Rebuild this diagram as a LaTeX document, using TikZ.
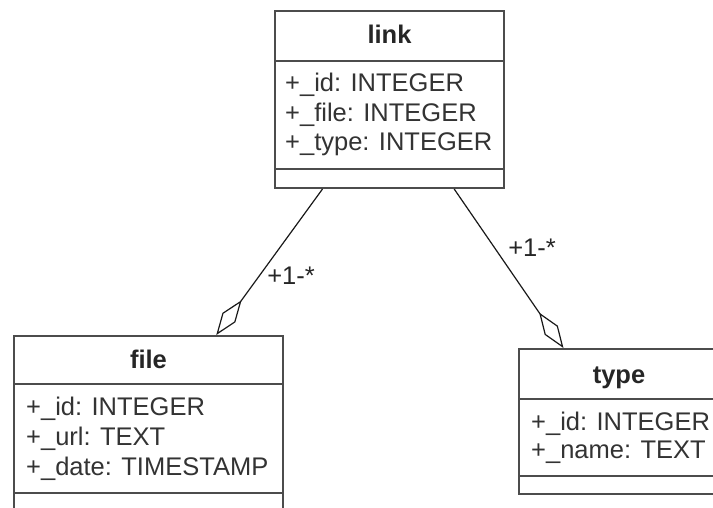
\documentclass[tikz,border=0pt]{standalone}
\usepackage{fontspec}
\setmainfont{Liberation Sans}
\usetikzlibrary{arrows.meta,calc}
\begin{document}
\begin{tikzpicture}[x=1pt,y=-1pt,
  box/.style={draw=black!70, line width=2pt, inner sep=0pt, fill=white, anchor=north west},
  divider/.style={draw=black!70, line width=2pt},
  title/.style={font=\fontsize{25.5}{30}\selectfont\bfseries, text=black!85, inner sep=0pt, anchor=base},
  attr/.style={font=\fontsize{25.5}{30}\selectfont, text=black!80, inner sep=0pt, anchor=base west},
  conn/.style={draw=black!90, line width=1.2pt, -{Diamond[open,length=43pt,width=16pt,line width=1.2pt]}},
  mult/.style={font=\fontsize{25.5}{30}\selectfont, text=black!85, inner sep=0pt}]
\useasboundingbox (0,0) rectangle (713,508);
\begin{scope}
\clip (0,0) rectangle (713,508);
% link
\node[box, minimum width=229pt, minimum height=177pt] (link) at (274,10) {};
\draw[divider] ($(link.north west)+(0,51)$) -- ($(link.north east)+(0,51)$);
\draw[divider] ($(link.north west)+(0,159)$) -- ($(link.north east)+(0,159)$);
\node[title] (linkt) at ($(link.north)+(0,34)$) {link};
\node[attr] (linka1) at ($(link.north west)+(11,82)$) {+\_id: INTEGER};
\node[attr] (linka2) at ($(link.north west)+(11,111.5)$) {+\_file: INTEGER};
\node[attr] (linka3) at ($(link.north west)+(11,141)$) {+\_type: INTEGER};
% file
\node[box, minimum width=269pt, minimum height=176pt] (file) at (13,335) {};
\draw[divider] ($(file.north west)+(0,49)$) -- ($(file.north east)+(0,49)$);
\draw[divider] ($(file.north west)+(0,158)$) -- ($(file.north east)+(0,158)$);
\node[title] (filet) at ($(file.north)+(0,33)$) {file};
\node[attr] (filea1) at ($(file.north west)+(13,80)$) {+\_id: INTEGER};
\node[attr] (filea2) at ($(file.north west)+(13,110)$) {+\_url: TEXT};
\node[attr] (filea3) at ($(file.north west)+(13,140)$) {+\_date: TIMESTAMP};
% type
\node[box, minimum width=200pt, minimum height=145pt] (type) at (518,348) {};
\draw[divider] ($(type.north west)+(0,51)$) -- ($(type.north east)+(0,51)$);
\draw[divider] ($(type.north west)+(0,128)$) -- ($(type.north east)+(0,128)$);
\node[title] (typet) at ($(type.north)+(0,35)$) {type};
\node[attr] (typea1) at ($(type.north west)+(13,82)$) {+\_id: INTEGER};
\node[attr] (typea2) at ($(type.north west)+(13,110.5)$) {+\_name: TEXT};
% connectors
\coordinate (ls) at ($(link.south west)!0.21!(link.south east)$);
\coordinate (rs) at ($(link.south west)!0.78!(link.south east)$);
\coordinate (fe) at ($(file.north west)!0.75!(file.north east)$);
\coordinate (te) at ($(type.north west)!0.225!(type.north east)$);
\draw[conn] (ls) -- (fe);
\draw[conn] (rs) -- (te);
\node[mult] (m1) at (291,276) {+1-*};
\node[mult] (m2) at (532,248) {+1-*};
\end{scope}
\end{tikzpicture}
\end{document}
